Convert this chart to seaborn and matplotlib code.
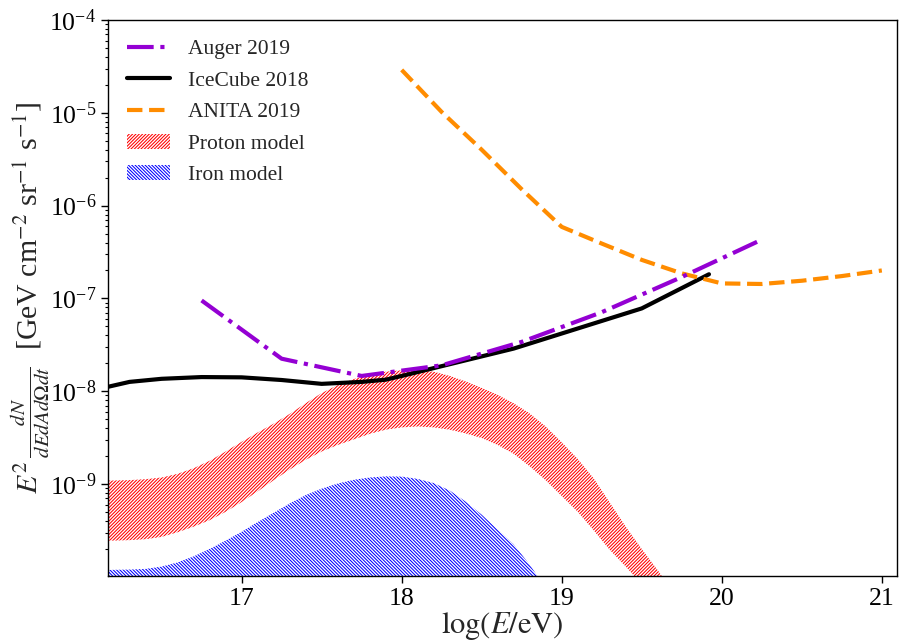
import numpy as np
import pandas as pd
import matplotlib
matplotlib.use("Agg")
import matplotlib.pyplot as plt
import seaborn as sns

# --- measured upper limits (log10 E/eV, E^2 dN/dE in GeV cm^-2 sr^-1 s^-1) ---
auger_logE = [16.75, 17.25, 17.75, 18.25, 18.75, 19.25, 19.75, 20.25]
auger_flux = [9.5e-8, 2.24e-8, 1.46e-8, 1.9e-8, 3.4e-8, 7.1e-8, 1.7e-7, 4.3e-7]

icecube_logE = [16.16, 16.3, 16.5, 16.75, 17.0, 17.25, 17.5, 17.75, 17.9, 18.0,
                18.7, 19.5, 19.92]
icecube_flux = [1.11e-8, 1.26e-8, 1.36e-8, 1.42e-8, 1.41e-8, 1.32e-8, 1.2e-8,
                1.26e-8, 1.33e-8, 1.46e-8, 2.88e-8, 7.8e-8, 1.82e-7]

anita_logE = [18.0, 18.25, 18.5, 18.75, 19.0, 19.25, 19.5, 19.75, 20.0, 20.25,
              20.5, 20.75, 21.0]
anita_flux = [2.9e-5, 1.02e-5, 4.0e-6, 1.5e-6, 5.9e-7, 3.9e-7, 2.6e-7, 1.86e-7,
              1.45e-7, 1.43e-7, 1.55e-7, 1.74e-7, 2.0e-7]

# --- model bands: log10 of the flux envelope on a common energy grid ---
band_logE = [16.1, 16.2, 16.3, 16.4, 16.5, 16.6, 16.7, 16.8, 16.9, 17.0,
             17.1, 17.2, 17.3, 17.4, 17.5, 17.6, 17.7, 17.8, 17.9, 18.0,
             18.1, 18.2, 18.3, 18.4, 18.5, 18.6, 18.7, 18.8, 18.9, 19.0,
             19.1, 19.2, 19.3, 19.4, 19.5, 19.6, 19.7, 19.8]
proton_hi = [-8.965, -8.962, -8.958, -8.948, -8.93, -8.89, -8.83, -8.75, -8.65, -8.545,
             -8.445, -8.35, -8.245, -8.13, -8.02, -7.935, -7.87, -7.82, -7.79, -7.775,
             -7.775, -7.79, -7.835, -7.895, -7.965, -8.04, -8.13, -8.24, -8.38, -8.55,
             -8.73, -8.94, -9.20, -9.46, -9.70, -9.93, -10.17, -10.4]
proton_lo = [-9.61, -9.61, -9.605, -9.595, -9.57, -9.52, -9.46, -9.39, -9.30, -9.195,
             -9.08, -8.96, -8.845, -8.74, -8.65, -8.58, -8.52, -8.46, -8.415, -8.39,
             -8.38, -8.39, -8.415, -8.455, -8.505, -8.58, -8.675, -8.81, -8.96, -9.13,
             -9.30, -9.50, -9.71, -9.89, -10.08, -10.3, -10.5, -10.7]
iron_hi = [-9.93, -9.925, -9.922, -9.915, -9.89, -9.845, -9.78, -9.70, -9.61, -9.515,
           -9.41, -9.31, -9.21, -9.12, -9.05, -8.995, -8.955, -8.93, -8.918, -8.92,
           -8.945, -8.99, -9.07, -9.19, -9.33, -9.49, -9.65, -9.87, -10.12, -10.4,
           -10.7, -11.0, -11.3, -11.6, -11.9, -12.2, -12.5, -12.8]
iron_lo = [-11.0, -11.0, -11.0, -11.0, -11.0, -11.0, -11.0, -11.0, -11.0, -11.0,
           -11.0, -11.0, -11.0, -11.0, -11.0, -11.0, -11.0, -11.0, -11.0, -11.0,
           -11.0, -11.0, -11.0, -11.0, -11.0, -11.0, -11.0, -11.0, -11.0, -11.0,
           -11.0, -11.0, -11.3, -11.6, -11.9, -12.2, -12.5, -12.8]

limits = pd.concat([
    pd.DataFrame({"logE": auger_logE, "flux": auger_flux, "exp": "Auger 2019"}),
    pd.DataFrame({"logE": icecube_logE, "flux": icecube_flux, "exp": "IceCube 2018"}),
    pd.DataFrame({"logE": anita_logE, "flux": anita_flux, "exp": "ANITA 2019"}),
], ignore_index=True)

sns.set_theme(style="ticks")
plt.rcParams["font.family"] = ["Liberation Serif", "DejaVu Serif"]
plt.rcParams["mathtext.fontset"] = "stix"
plt.rcParams["axes.edgecolor"] = "black"
plt.rcParams["xtick.color"] = "black"
plt.rcParams["ytick.color"] = "black"
plt.rcParams["hatch.linewidth"] = 0.75

fig = plt.figure(figsize=(9.02, 6.41), dpi=100)
ax = fig.add_axes([0.1197, 0.1014, 0.8748, 0.8674])

styles = {
    "Auger 2019": dict(color="darkviolet", linestyle="-.", zorder=4),
    "IceCube 2018": dict(color="black", linestyle="-", zorder=3),
    "ANITA 2019": dict(color="darkorange", linestyle="--", zorder=3),
}
for name, st in styles.items():
    sub = limits[limits["exp"] == name]
    sns.lineplot(data=sub, x="logE", y="flux", ax=ax, lw=3, label=name,
                 sort=False, estimator=None, **st)

be = np.array(band_logE)
ax.fill_between(be, 10 ** np.array(proton_lo), 10 ** np.array(proton_hi),
                facecolor="none", edgecolor="red", hatch="/" * 10, linewidth=0,
                label="Proton model", zorder=1)
ax.fill_between(be, 10 ** np.array(iron_lo), 10 ** np.array(iron_hi),
                facecolor="none", edgecolor="blue", hatch="\\" * 10, linewidth=0,
                label="Iron model", zorder=1)

ax.set_yscale("log")
ax.set_xlim(16.165, 21.095)
ax.set_ylim(1.02e-10, 1e-4)
ax.set_xticks([17, 18, 19, 20, 21])
ax.tick_params(axis="both", which="major", labelsize=18.5, length=5, width=1)
ax.tick_params(axis="y", which="minor", length=2.5, width=0.8)
for sp in ax.spines.values():
    sp.set_linewidth(1)
    sp.set_color("black")

ax.set_xlabel(r"$\log(E/\mathrm{eV})$", fontsize=22, labelpad=0)
ax.set_ylabel(r"$E^2\,\frac{dN}{dEdAd\Omega dt}$  [GeV cm$^{-2}$ sr$^{-1}$ s$^{-1}$]",
              fontsize=21.5, labelpad=-2)

ax.legend(loc="upper left", frameon=False, fontsize=15.5, handlelength=2.0,
          labelspacing=0.53, borderaxespad=0.5)

fig.savefig("out.png", dpi=100)
